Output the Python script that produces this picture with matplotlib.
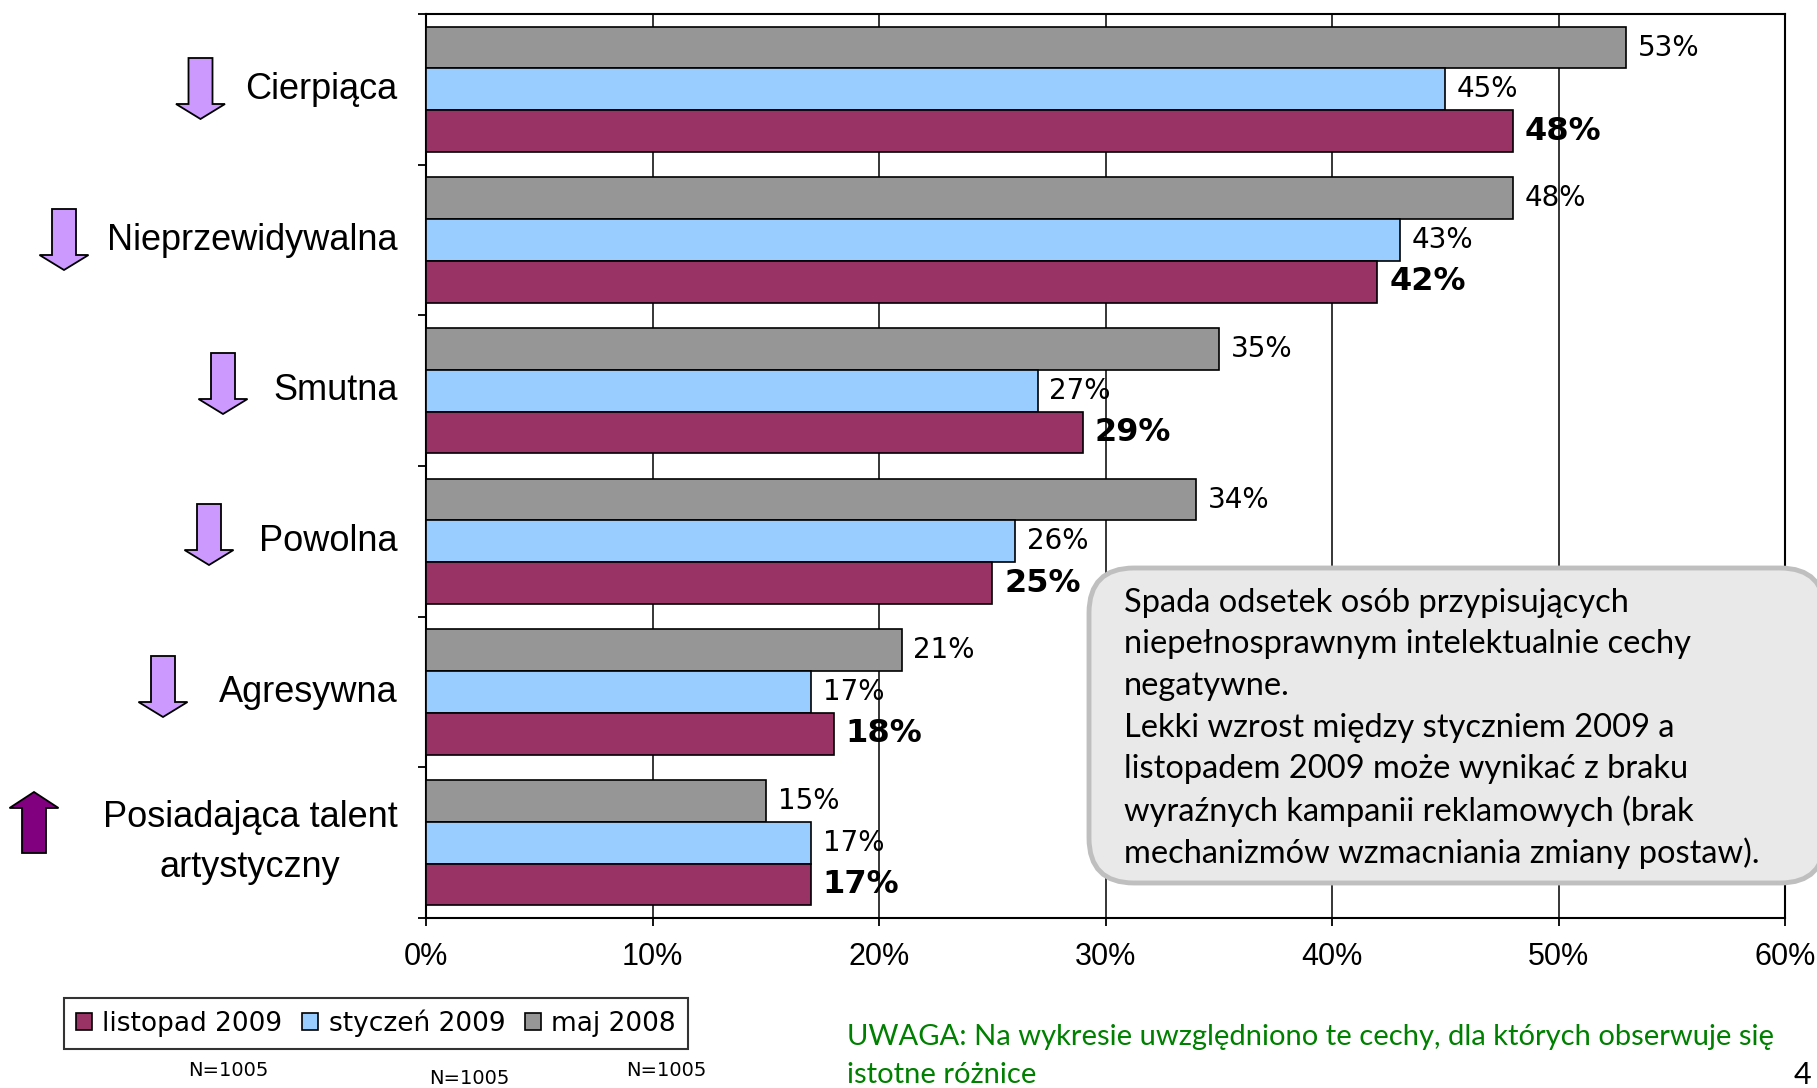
import matplotlib
matplotlib.use("Agg")
import matplotlib.pyplot as plt
import numpy as np
from matplotlib.patches import Polygon, FancyBboxPatch

# dane z wykresu (od góry)
kategorie = ['Cierpiąca', 'Nieprzewidywalna', 'Smutna', 'Powolna', 'Agresywna',
             'Posiadająca talent\nartystyczny']
maj_2008 = [53, 48, 35, 34, 21, 15]
styczen_2009 = [45, 43, 27, 26, 17, 17]
listopad_2009 = [48, 42, 29, 25, 18, 17]
serie = ['listopad 2009', 'styczeń 2009', 'maj 2008']
kolory = ['#993366', '#99CCFF', '#969696']
xticks = [0, 10, 20, 30, 40, 50, 60]

notatka = ['Spada odsetek osób przypisujących',
           'niepełnosprawnym intelektualnie cechy',
           'negatywne.',
           'Lekki wzrost między styczniem 2009 a',
           'listopadem 2009 może wynikać z braku',
           'wyraźnych kampanii reklamowych (brak',
           'mechanizmów wzmacniania zmiany postaw).']
uwaga = ['UWAGA: Na wykresie uwzględniono te cechy, dla których obserwuje się',
         'istotne różnice']

W, H = 1817, 1088
fig = plt.figure(figsize=(W / 100, H / 100), dpi=100)


def px(x, y):
    # piksele od lewego górnego rogu -> cale
    return (x / 100, (H - y) / 100)


ax = fig.add_axes([426 / W, (H - 918) / H, (1785 - 426) / W, (918 - 14) / H])

y = np.arange(len(kategorie))
w = 0.277
b_maj = ax.barh(y - w, maj_2008, height=w, color=kolory[2], edgecolor='black', linewidth=1.2, zorder=3)
b_sty = ax.barh(y, styczen_2009, height=w, color=kolory[1], edgecolor='black', linewidth=1.2, zorder=3)
b_lis = ax.barh(y + w, listopad_2009, height=w, color=kolory[0], edgecolor='black', linewidth=1.2, zorder=3)

for vals, off, bold in [(maj_2008, -w, False), (styczen_2009, 0, False), (listopad_2009, w, True)]:
    for yi, v in zip(y, vals):
        ax.annotate(f'{v}%', xy=(v, yi + off), xytext=(8.5, 0), textcoords='offset points',
                    ha='left', va='center', fontsize=23 if bold else 20,
                    fontweight='bold' if bold else 'normal', family='DejaVu Sans', zorder=5)

ax.set_xlim(0, 60)
ax.set_ylim(len(kategorie) - 0.5, -0.5)
ax.set_xticks(xticks)
ax.set_xticklabels([f'{t}%' for t in xticks], family='Liberation Sans', fontsize=22)
ax.set_yticks(np.arange(len(kategorie) + 1) - 0.5)
ax.set_yticklabels([])
ax.set_yticks(y, minor=True)
ax.set_yticklabels(kategorie, minor=True, family='Liberation Sans', fontsize=26,
                   multialignment='center', linespacing=1.55, va='center')
ax.tick_params(axis='both', which='major', direction='out', length=6, width=1.3, color='black')
ax.tick_params(axis='x', which='major', pad=11)
ax.tick_params(axis='y', which='minor', length=0, pad=20.5)
ax.xaxis.grid(True, color='black', linewidth=1.1)
ax.set_axisbelow(True)
for s in ax.spines.values():
    s.set_linewidth(1.5)
    s.set_color('black')

# legenda
leg = fig.legend([b_lis, b_sty, b_maj], serie, loc='lower left',
                 bbox_to_anchor=(64 / W, (H - 1049) / H), bbox_transform=fig.transFigure,
                 ncol=3, frameon=True, fancybox=False, borderaxespad=0,
                 prop={'family': 'DejaVu Sans', 'size': 19},
                 handlelength=0.6, handleheight=0.6, handletextpad=0.4,
                 columnspacing=0.75, borderpad=0.45)
leg.get_frame().set_edgecolor('black')
leg.get_frame().set_linewidth(1.5)

for xn, yn in [(228, 1071), (469, 1079), (666, 1071)]:
    fig.text(xn / W, 1 - yn / H, 'N=1005', ha='center', va='center',
             fontsize=14, family='DejaVu Sans')

# strzałki przy kategoriach
strzalki = [(200.5, 58, 'down'), (64, 209, 'down'), (223, 353, 'down'),
            (209, 504, 'down'), (163, 656, 'down'), (34, 792, 'up')]
for cx, yt, kier in strzalki:
    L, hl, sw, hw = 61, 15, 12, 24.5
    if kier == 'down':
        pts = [(cx - sw, yt), (cx + sw, yt), (cx + sw, yt + L - hl), (cx + hw, yt + L - hl),
               (cx, yt + L), (cx - hw, yt + L - hl), (cx - sw, yt + L - hl)]
        fc = '#CC99FF'
    else:
        hl = 16
        pts = [(cx, yt), (cx + hw, yt + hl), (cx + sw, yt + hl), (cx + sw, yt + L),
               (cx - sw, yt + L), (cx - sw, yt + hl), (cx - hw, yt + hl)]
        fc = '#800080'
    fig.add_artist(Polygon([px(a, b) for a, b in pts], closed=True, facecolor=fc,
                           edgecolor='black', linewidth=1.3, transform=fig.dpi_scale_trans))

# ramka z komentarzem
x0, y0 = px(1089, 883)
box = FancyBboxPatch((x0, y0), (1825 - 1089) / 100, (883 - 568) / 100,
                     boxstyle='round,pad=0,rounding_size=0.45', facecolor='#E9E9E9',
                     edgecolor='#BFBFBF', linewidth=3.5, transform=fig.dpi_scale_trans, zorder=4)
fig.add_artist(box)
for i, linia in enumerate(notatka):
    fig.text(1124 / W, 1 - (602.6 + i * 41.7) / H, linia, ha='left', va='center',
             fontsize=23.5, family='Lato', zorder=6)

for i, linia in enumerate(uwaga):
    fig.text(847 / W, 1 - (1037 + i * 38) / H, linia, ha='left', va='center',
             fontsize=21, family='Lato', color='#008000')
fig.text(1802 / W, 1 - 1075 / H, '4', ha='center', va='center', fontsize=22, family='Lato')

fig.savefig('out.png', dpi=100)
